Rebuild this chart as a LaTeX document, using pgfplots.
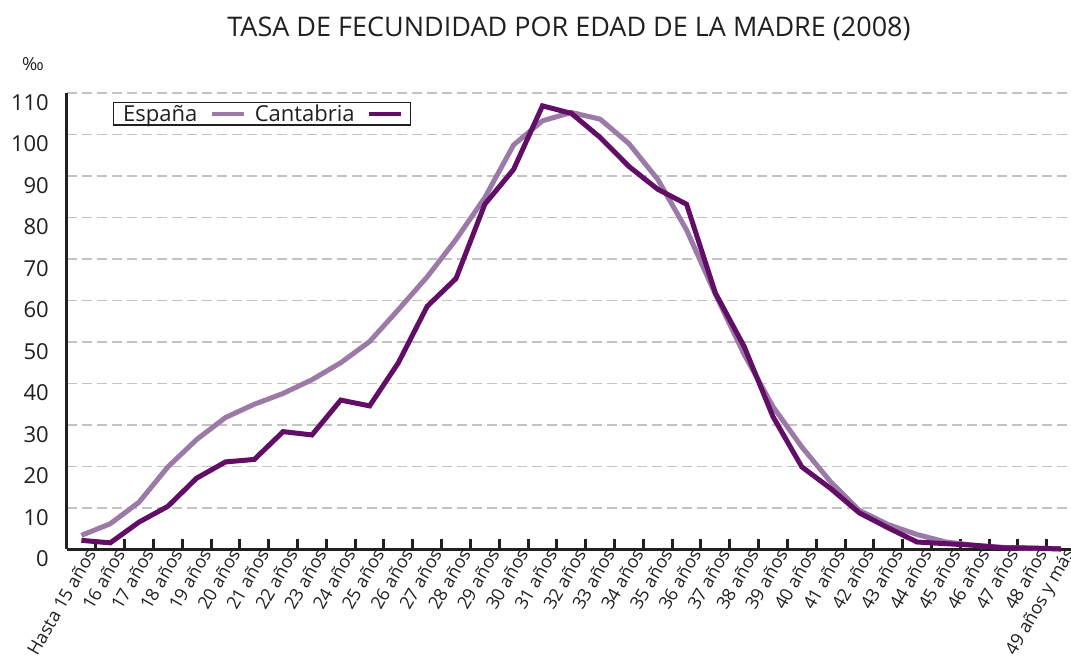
\documentclass[border=0pt]{standalone}
\usepackage{fontspec}
\setmainfont{Open Sans}
\usepackage{pgfplots}
\pgfplotsset{compat=1.18}
\definecolor{espana}{RGB}{156,122,168}
\definecolor{cantabria}{RGB}{98,14,102}
\definecolor{axisblack}{RGB}{35,31,32}
\definecolor{gridgray}{RGB}{195,195,195}
\begin{document}
\begin{tikzpicture}
\useasboundingbox (0,0) rectangle (1071pt,668pt);
\node[font=\fontsize{27}{27}\selectfont, text=axisblack] at (569pt,639pt) {TASA DE FECUNDIDAD POR EDAD DE LA MADRE (2008)};
\node[font=\fontsize{18}{18}\selectfont, text=axisblack] at (33pt,604pt) {‰};
\begin{axis}[
  at={(67pt,118.5pt)}, anchor=south west,
  scale only axis, width=1008.6pt, height=456.5pt,
  xmin=-0.5, xmax=34.5, ymin=0, ymax=110,
  /pgf/number format/assume math mode=true,
  axis x line=bottom, axis y line=left,
  axis line style={-, line width=3pt, draw=axisblack},
  ytick={0,10,...,110},
  ytick style={draw=none},
  yticklabel style={anchor=north east, inner sep=0pt, xshift=-18pt, yshift=-1pt, font=\fontsize{22}{22}\selectfont, text=axisblack},
  ymajorgrids,
  major grid style={gridgray, line width=1.2pt, dash pattern=on 10pt off 5pt},
  xtick={0,...,34},
  xticklabels={Hasta 15 años,16 años,17 años,18 años,19 años,20 años,21 años,22 años,23 años,24 años,25 años,26 años,27 años,28 años,29 años,30 años,31 años,32 años,33 años,34 años,35 años,36 años,37 años,38 años,39 años,40 años,41 años,42 años,43 años,44 años,45 años,46 años,47 años,48 años,49 años y más},
  xticklabel style={rotate=60, anchor=east, inner sep=0pt, xshift=4pt, yshift=-9pt, font=\fontsize{18}{18}\selectfont, text=axisblack},
  major tick length=0pt,
  minor x tick num=1,
  minor tick length=10pt,
  tick align=inside,
  every minor tick/.append style={line width=3pt, draw=axisblack},
  legend plot pos=right,
  legend columns=2,
  legend style={at={(0.0456,0.980)}, anchor=north west, draw=axisblack, line width=1.2pt,
    font=\fontsize{22}{22}\selectfont, text=axisblack, inner xsep=8pt, inner ysep=0.5pt,
    nodes={inner sep=1.5pt},
    /tikz/every even column/.append style={column sep=8pt},
    /tikz/every odd column/.append style={column sep=11pt}},
  legend image code/.code={\draw[#1, line width=3.5pt] (0pt,0pt) -- (32pt,0pt);},
  clip=false,
]
\addplot[espana, line width=5pt] coordinates {
(0,3.4)(1,6.2)(2,11.4)(3,19.9)(4,26.5)(5,31.8)(6,35.0)(7,37.6)(8,40.9)(9,45.0)
(10,50.1)(11,57.8)(12,65.7)(13,74.7)(14,84.8)(15,97.5)(16,103.3)(17,105.3)(18,103.7)(19,97.8)
(20,89.2)(21,77.0)(22,61.5)(23,47.0)(24,34.4)(25,24.7)(26,16.3)(27,9.4)(28,6.0)(29,3.6)
(30,1.8)(31,1.0)(32,0.5)(33,0.3)(34,0.2)};
\addlegendentry{España}
\addplot[cantabria, line width=5pt] coordinates {
(0,2.2)(1,1.6)(2,6.6)(3,10.4)(4,17.2)(5,21.1)(6,21.7)(7,28.4)(8,27.6)(9,36.0)
(10,34.6)(11,45.0)(12,58.6)(13,65.3)(14,83.2)(15,91.6)(16,106.9)(17,105.1)(18,99.3)(19,92.3)
(20,86.8)(21,83.2)(22,61.8)(23,48.9)(24,32.0)(25,19.9)(26,14.7)(27,8.8)(28,5.2)(29,1.8)
(30,1.4)(31,1.0)(32,0.4)(33,0.35)(34,0.1)};
\addlegendentry{Cantabria}
\end{axis}
\end{tikzpicture}
\end{document}
